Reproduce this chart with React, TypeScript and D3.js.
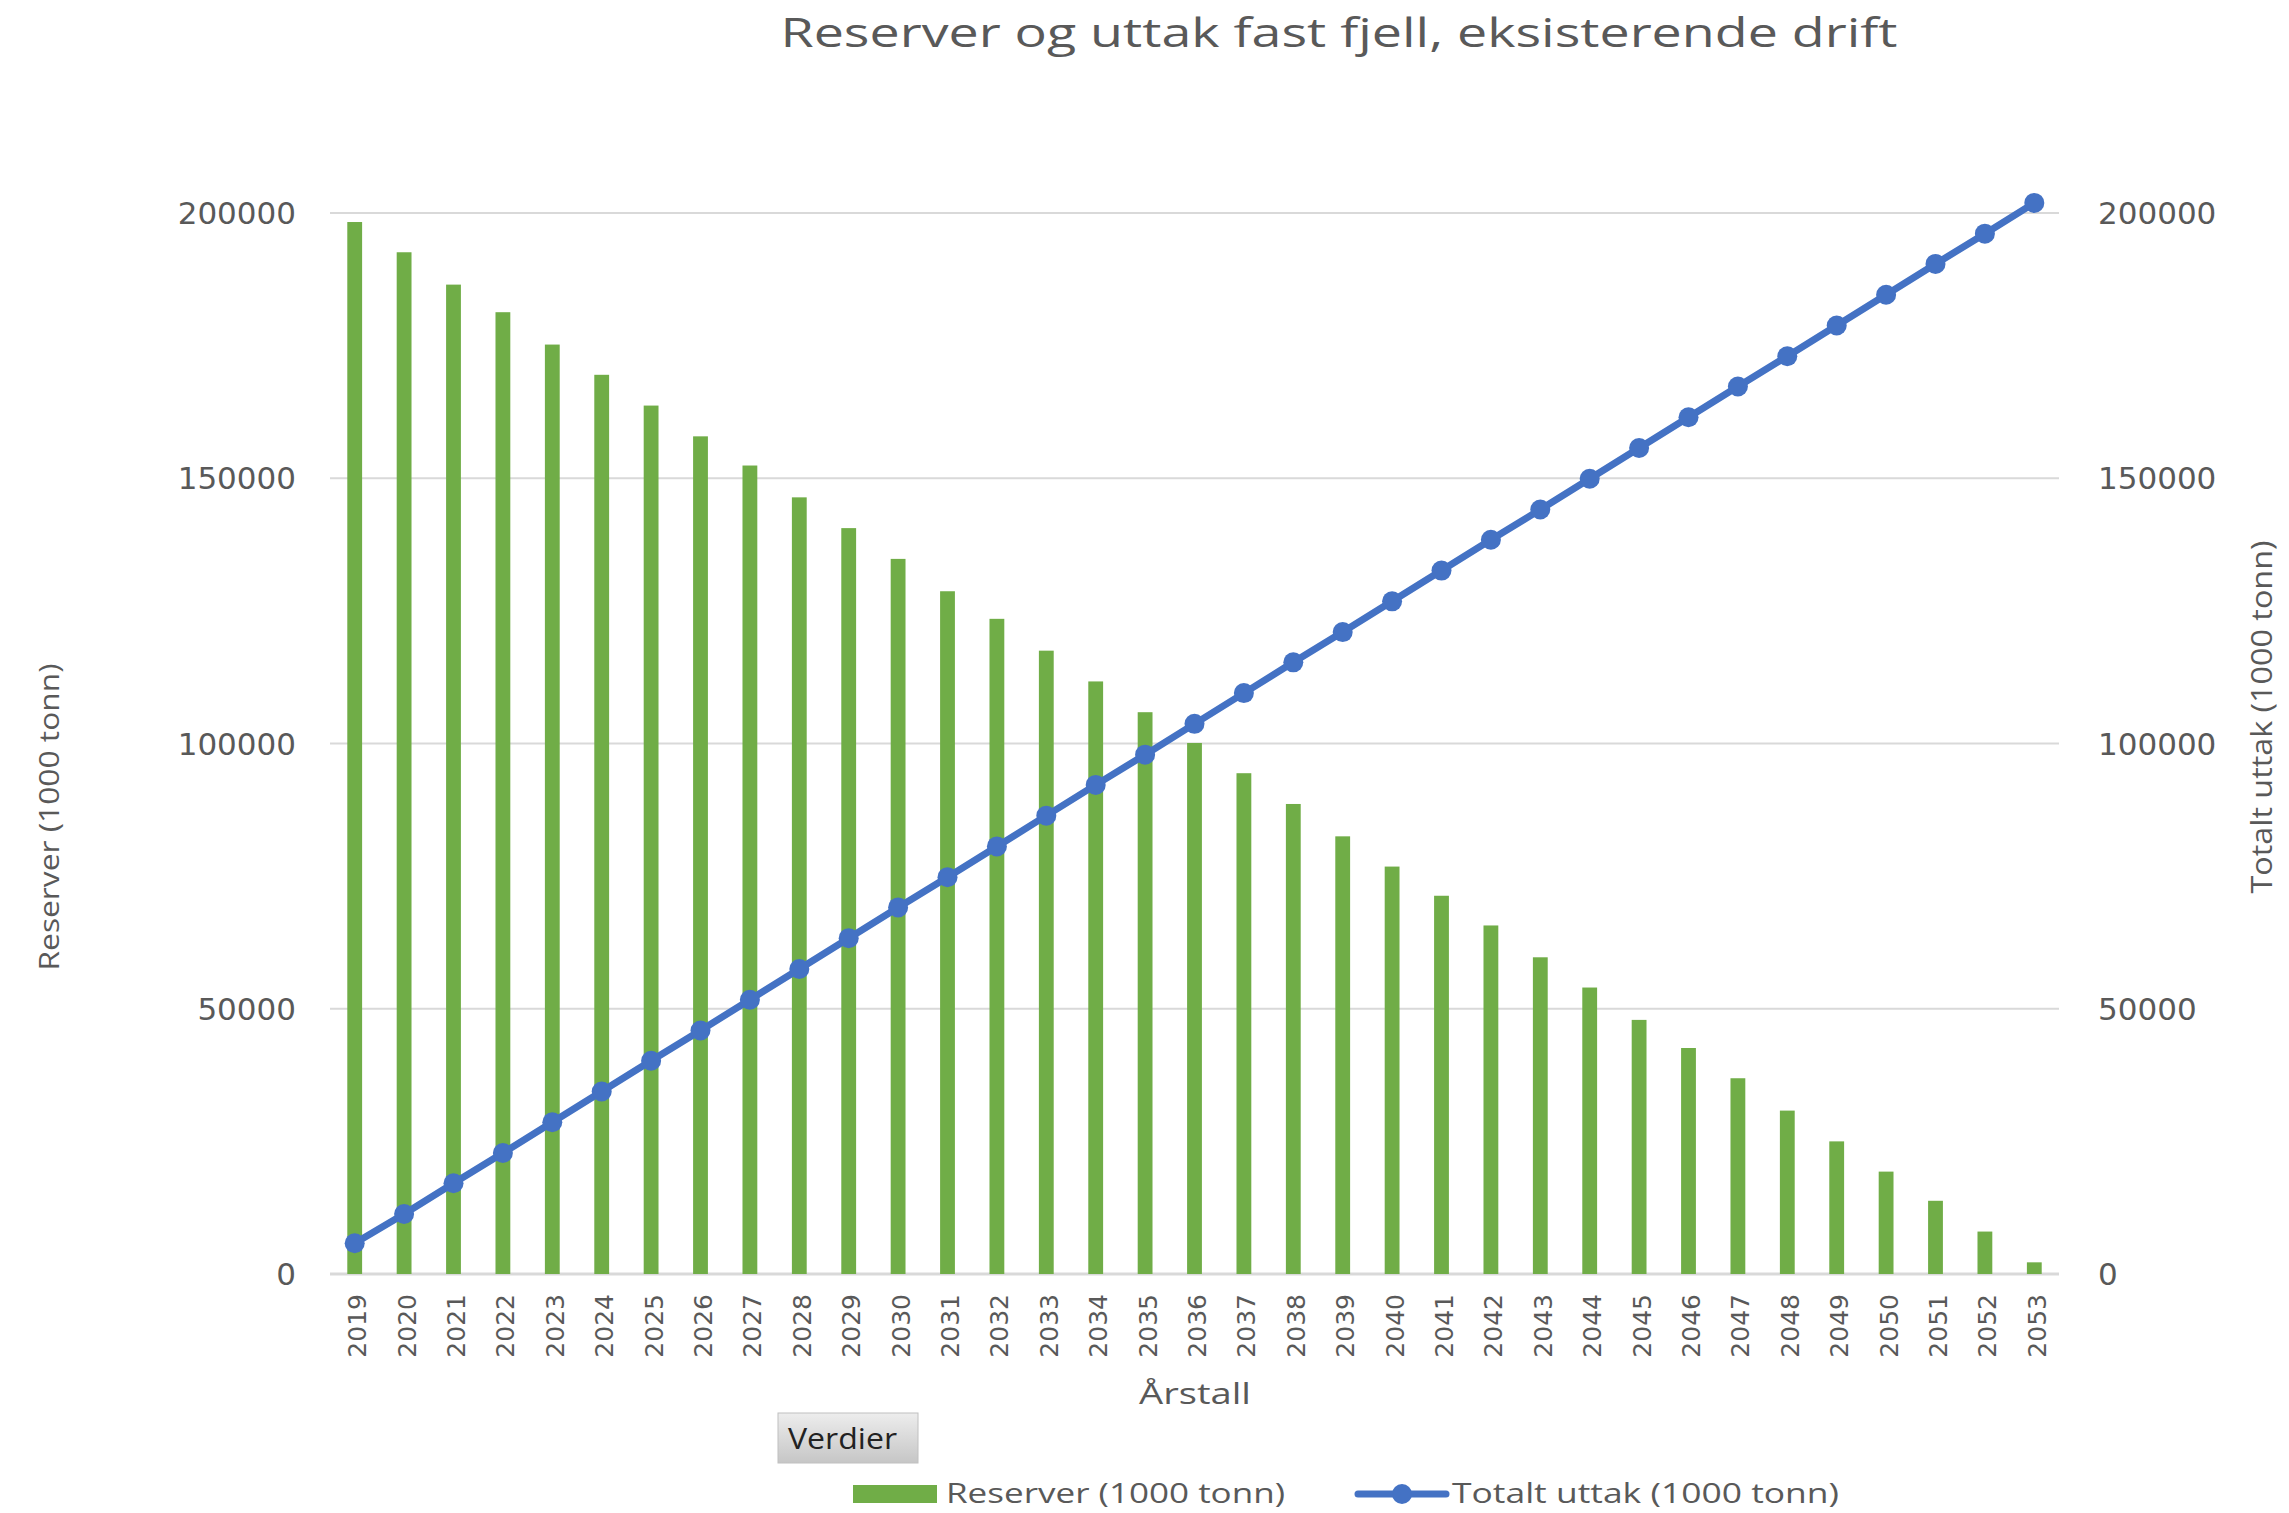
import React from "react";
import * as d3 from "d3";

const years: string[] = [
  "2019","2020","2021","2022","2023","2024","2025","2026","2027","2028",
  "2029","2030","2031","2032","2033","2034","2035","2036","2037","2038",
  "2039","2040","2041","2042","2043","2044","2045","2046","2047","2048",
  "2049","2050","2051","2052","2053",
];

const reserver: number[] = [
  198300, 192600, 186500, 181300, 175200, 169500, 163700, 157900, 152400, 146400,
  140600, 134800, 128700, 123500, 117500, 111700, 105900, 100100, 94400, 88600,
  82500, 76800, 71300, 65700, 59700, 54000, 47900, 42600, 36900, 30800,
  25000, 19300, 13800, 8000, 2200,
];

const totaltUttak: number[] = [
  5800, 11300, 17100, 22800, 28600, 34400, 40200, 45900, 51700, 57500,
  63300, 69100, 74800, 80600, 86400, 92200, 97900, 103700, 109500, 115300,
  121000, 126800, 132600, 138400, 144100, 149900, 155700, 161500, 167300, 173000,
  178800, 184600, 190400, 196100, 201900,
];

const yTicks: number[] = [0, 50000, 100000, 150000, 200000];

const title = "Reserver og uttak fast fjell, eksisterende drift";
const leftTitle = "Reserver (1000 tonn)";
const rightTitle = "Totalt uttak (1000 tonn)";
const xTitle = "Årstall";
const legendBar = "Reserver (1000 tonn)";
const legendLine = "Totalt uttak (1000 tonn)";
const buttonLabel = "Verdier";

const W = 2289;
const H = 1513;
const GREEN = "#70AD47";
const BLUE = "#4472C4";
const TXT = "#595959";
const GRID = "#d9d9d9";
const SANS = "'Open Sans', 'Noto Sans', sans-serif";
const TICKFONT = "'DejaVu Sans', Verdana, sans-serif";

export default function App() {
  const x = d3
    .scaleBand<string>()
    .domain(years)
    .range([330, 2059])
    .paddingInner(0.7)
    .paddingOuter(0.35);
  const y = d3.scaleLinear().domain([0, 200000]).range([1274, 213]);
  const bw = x.bandwidth();
  const cx = (yr: string) => (x(yr) as number) + bw / 2;

  const linePath = d3
    .line<number>()
    .x((_, i) => cx(years[i]))
    .y((d) => y(d))(totaltUttak) as string;

  return (
    <svg
      width={W}
      height={H}
      style={{ position: "absolute", left: 0, top: 0, background: "#fff" }}
    >
      <defs>
        <linearGradient id="btn" x1="0" y1="0" x2="0" y2="1">
          <stop offset="0" stopColor="#ededed" />
          <stop offset="1" stopColor="#c6c6c6" />
        </linearGradient>
      </defs>
      <rect x={0} y={0} width={W} height={H} fill="#fff" />

      {/* Title */}
      <text
        x={1339}
        y={47}
        textAnchor="middle"
        fontFamily={SANS}
        fontSize={41}
        fill={TXT}
        textLength={1117}
        lengthAdjust="spacingAndGlyphs"
      >
        {title}
      </text>

      {/* Gridlines */}
      {yTicks.map((t) => (
        <line
          key={"g" + t}
          x1={330}
          x2={2059}
          y1={y(t)}
          y2={y(t)}
          stroke={GRID}
          strokeWidth={t === 0 ? 3 : 2}
        />
      ))}

      {/* Left ticks */}
      {yTicks.map((t) => (
        <text
          key={"l" + t}
          x={296}
          y={y(t)}
          dy="0.36em"
          textAnchor="end"
          fontFamily={TICKFONT}
          fontSize={31}
          fill={TXT}
        >
          {t}
        </text>
      ))}

      {/* Right ticks */}
      {yTicks.map((t) => (
        <text
          key={"r" + t}
          x={2098}
          y={y(t)}
          dy="0.36em"
          textAnchor="start"
          fontFamily={TICKFONT}
          fontSize={31}
          fill={TXT}
        >
          {t}
        </text>
      ))}

      {/* Bars */}
      {reserver.map((v, i) => (
        <rect
          key={"b" + i}
          x={x(years[i]) as number}
          y={y(v)}
          width={bw}
          height={y(0) - y(v)}
          fill={GREEN}
        />
      ))}

      {/* Line */}
      <path d={linePath} fill="none" stroke={BLUE} strokeWidth={7} strokeLinejoin="round" />
      {totaltUttak.map((v, i) => (
        <circle key={"c" + i} cx={cx(years[i])} cy={y(v)} r={10} fill={BLUE} />
      ))}

      {/* X labels */}
      {years.map((yr) => (
        <text
          key={"x" + yr}
          transform={`translate(${cx(yr) + 3},${1294}) rotate(-90)`}
          textAnchor="end"
          dominantBaseline="central"
          fontFamily={TICKFONT}
          fontSize={25}
          fill={TXT}
        >
          {yr}
        </text>
      ))}

      {/* Axis titles */}
      <text
        x={1195}
        y={1404}
        textAnchor="middle"
        fontFamily={SANS}
        fontSize={29}
        fill={TXT}
        textLength={112}
        lengthAdjust="spacingAndGlyphs"
      >
        {xTitle}
      </text>
      <text
        transform={`translate(48,817) rotate(-90)`}
        textAnchor="middle"
        dominantBaseline="central"
        fontFamily={SANS}
        fontSize={27}
        fill={TXT}
        textLength={307}
        lengthAdjust="spacingAndGlyphs"
      >
        {leftTitle}
      </text>
      <text
        transform={`translate(2260,717) rotate(-90)`}
        textAnchor="middle"
        dominantBaseline="central"
        fontFamily={SANS}
        fontSize={29}
        fill={TXT}
        textLength={353}
        lengthAdjust="spacingAndGlyphs"
      >
        {rightTitle}
      </text>

      {/* Verdier button */}
      <rect x={778} y={1413} width={140} height={50} fill="url(#btn)" stroke="#c0c0c0" strokeWidth={1} />
      <text
        x={788}
        y={1449}
        fontFamily={SANS}
        fontSize={30}
        fill="#222"
        textLength={109}
        lengthAdjust="spacingAndGlyphs"
      >
        {buttonLabel}
      </text>

      {/* Legend */}
      <rect x={853} y={1485} width={84} height={18} fill={GREEN} />
      <text
        x={946}
        y={1503}
        fontFamily={SANS}
        fontSize={27}
        fill={TXT}
        textLength={339}
        lengthAdjust="spacingAndGlyphs"
      >
        {legendBar}
      </text>
      <line x1={1358} x2={1446} y1={1494} y2={1494} stroke={BLUE} strokeWidth={7} strokeLinecap="round" />
      <circle cx={1402} cy={1494} r={10} fill={BLUE} />
      <text
        x={1452}
        y={1503}
        fontFamily={SANS}
        fontSize={27}
        fill={TXT}
        textLength={387}
        lengthAdjust="spacingAndGlyphs"
      >
        {legendLine}
      </text>
    </svg>
  );
}
